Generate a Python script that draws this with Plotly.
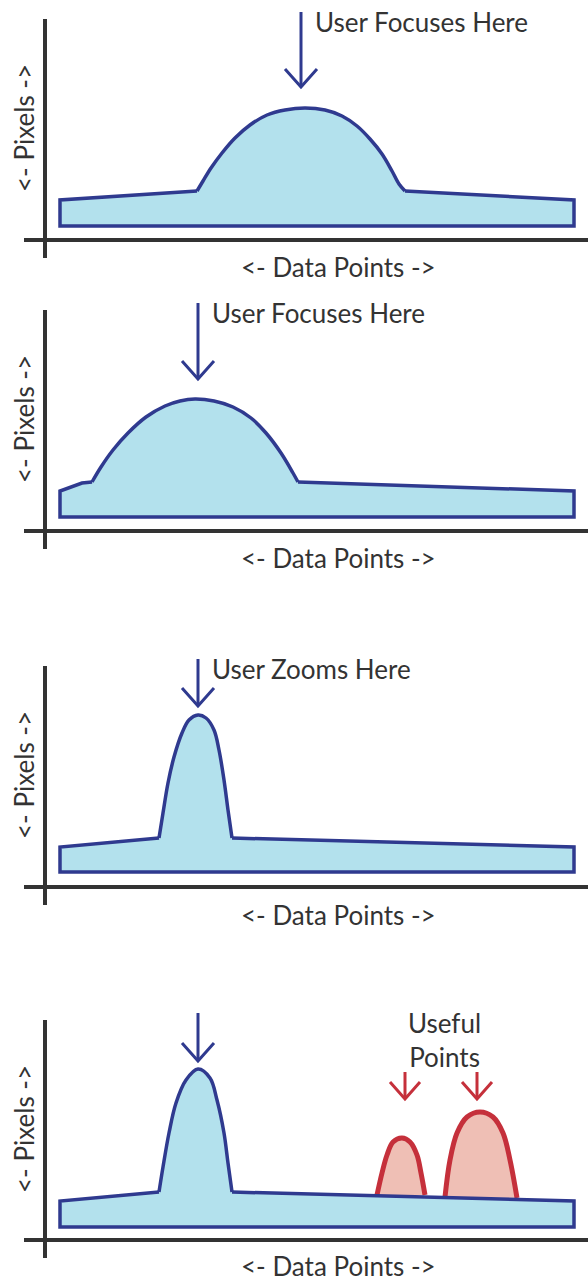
import plotly.graph_objects as go

W, H = 588, 1281

# panel extents on the page: top, bottom, where the x axis sits
panel_top = [0, 290, 640, 1000]
panel_bottom = [290, 640, 1000, 1281]
panel_axis = [240, 531, 887, 1240]

# outlines, u = distance right of the y axis, v = height above the x axis
p1_base_u = [360, 529, 529, 15, 15, 152]
p1_base_v = [49, 40, 14, 14, 40, 49]
p1_peak_u = [152, 158, 166, 177, 190, 205, 222, 240, 260, 280, 297, 312, 325, 337, 347, 354, 360]
p1_peak_v = [49, 59, 72, 87, 102, 115, 125, 130, 132, 130, 124, 114, 101, 86, 69, 56, 49]

p2_base_u = [253, 529, 529, 15, 15, 26, 37, 47]
p2_base_v = [49, 40, 14, 14, 40, 44, 48, 49]
p2_peak_u = [47, 56, 68, 83, 101, 120, 135, 150, 169, 188, 206, 221, 236, 248, 253]
p2_peak_v = [49, 64, 81, 98, 114, 125, 130, 132, 130, 124, 113, 98, 78, 58, 49]

p3_base_u = [187, 529, 529, 15, 15, 114]
p3_base_v = [49, 40, 15, 15, 40, 49]
p3_peak_u = [114, 118, 123, 129, 137, 144, 153, 161, 169, 174, 179, 183, 187]
p3_peak_v = [49, 74, 104, 130, 154, 167, 172, 169, 157, 137, 107, 77, 49]

p4_base_u = [187, 529, 529, 15, 15, 114]
p4_base_v = [48, 39, 13, 13, 39, 48]
p4_peak_u = [114, 118, 124, 131, 141, 153, 165, 172, 179, 183, 187]
p4_peak_v = [48, 73, 107, 137, 160, 171, 162, 140, 107, 77, 48]

# the two useful points in the last panel
r1_u = [332, 337, 342, 348, 357, 365, 372, 376, 380]
r1_v = [45, 67, 85, 98, 102, 98, 85, 67, 45]
r2_u = [400, 405, 412, 422, 435, 448, 458, 465, 472]
r2_v = [43, 80, 107, 123, 128, 123, 107, 80, 42]

# arrows: x, top, tip (one per panel)
arrow_u = [256, 153, 153, 153]
arrow_top = [228, 228, 228, 227]
arrow_tip = [153, 152, 181, 179]
red_arrow_u = [360, 432]
red_arrow_top = [168, 168]
red_arrow_tip = [141, 141]

notes = ["User Focuses Here", "User Focuses Here", "User Zooms Here", None]
note_u = [268, 165, 165, None]
note_v = [218, 218, 218, None]
xlabel_v = [-27, -27, -28, -26]
ylabel_v = [112, 112, 112, 111]
yaxis_top = [221, 221, 221, 220]

BLUE = "#2f3a8f"
BLUE_FILL = "#b3e1ed"
RED = "#c5303b"
RED_FILL = "#efbfb5"
INK = "#333333"
FONT = "Lato, sans-serif"
FS = 26

shapes_data = [
    (p1_base_u, p1_base_v, p1_peak_u, p1_peak_v),
    (p2_base_u, p2_base_v, p2_peak_u, p2_peak_v),
    (p3_base_u, p3_base_v, p3_peak_u, p3_peak_v),
    (p4_base_u, p4_base_v, p4_peak_u, p4_peak_v),
]


def ax(i, kind):
    return kind if i == 0 else f"{kind}{i + 1}"


def arrow_xy(u, top, tip, half, head):
    xs = [u, u, None, u - half, u, u + half]
    ys = [top, tip, None, tip + head, tip, tip + head]
    return xs, ys


fig = go.Figure()
layout = {}
shapes = []
annotations = []

for i in range(4):
    xa, ya = ax(i, "x"), ax(i, "y")
    base_u, base_v, peak_u, peak_v = shapes_data[i]

    # filled body
    fig.add_trace(go.Scatter(
        x=base_u + peak_u[1:], y=base_v + peak_v[1:],
        fill="toself", fillcolor=BLUE_FILL, mode="lines",
        line=dict(width=0), xaxis=xa, yaxis=ya, hoverinfo="skip"))

    if i == 3:
        for ru, rv in [(r1_u, r1_v), (r2_u, r2_v)]:
            fig.add_trace(go.Scatter(
                x=ru, y=rv, fill="toself", fillcolor=RED_FILL, mode="lines",
                line=dict(width=0), xaxis=xa, yaxis=ya, hoverinfo="skip"))
            fig.add_trace(go.Scatter(
                x=ru, y=rv, mode="lines",
                line=dict(color=RED, width=5, shape="spline"),
                xaxis=xa, yaxis=ya, hoverinfo="skip"))
        for u, top, tip in zip(red_arrow_u, red_arrow_top, red_arrow_tip):
            axs, ays = arrow_xy(u, top, tip, 15, 17)
            fig.add_trace(go.Scatter(
                x=axs, y=ays, mode="lines", line=dict(color=RED, width=3),
                xaxis=xa, yaxis=ya, hoverinfo="skip"))

    # outline: straight base + smooth peak
    fig.add_trace(go.Scatter(
        x=base_u, y=base_v, mode="lines",
        line=dict(color=BLUE, width=3.5),
        xaxis=xa, yaxis=ya, hoverinfo="skip"))
    fig.add_trace(go.Scatter(
        x=peak_u, y=peak_v, mode="lines",
        line=dict(color=BLUE, width=3.5, shape="spline"),
        xaxis=xa, yaxis=ya, hoverinfo="skip"))

    axs, ays = arrow_xy(arrow_u[i], arrow_top[i], arrow_tip[i], 16, 18)
    fig.add_trace(go.Scatter(
        x=axs, y=ays, mode="lines", line=dict(color=BLUE, width=3),
        xaxis=xa, yaxis=ya, hoverinfo="skip"))

    # page pixels -> subplot
    top, bottom, axis_px = panel_top[i], panel_bottom[i], panel_axis[i]
    xkey = "xaxis" if i == 0 else f"xaxis{i + 1}"
    ykey = "yaxis" if i == 0 else f"yaxis{i + 1}"
    layout[xkey] = dict(domain=[0, 1], range=[-45, W - 45], visible=False,
                        anchor=ya, fixedrange=True)
    layout[ykey] = dict(domain=[1 - bottom / H, 1 - top / H],
                        range=[axis_px - bottom, axis_px - top],
                        visible=False, anchor=xa, fixedrange=True)

    # the crossing axes
    shapes.append(dict(type="line", xref=xa, yref=ya, x0=0, x1=0,
                       y0=-18, y1=yaxis_top[i], line=dict(color=INK, width=4)))
    shapes.append(dict(type="line", xref=xa, yref=ya, x0=-21, x1=W - 45,
                       y0=0, y1=0, line=dict(color=INK, width=4)))

    annotations.append(dict(text="<- Data Points ->", xref=xa, yref=ya,
                            x=293, y=xlabel_v[i], showarrow=False,
                            font=dict(family=FONT, size=FS, color=INK)))
    annotations.append(dict(text="<- Pixels ->", xref=xa, yref=ya,
                            x=-21, y=ylabel_v[i], showarrow=False, textangle=-90,
                            font=dict(family=FONT, size=FS, color=INK)))
    if notes[i]:
        annotations.append(dict(text=notes[i], xref=xa, yref=ya,
                                x=note_u[i], y=note_v[i], xanchor="left",
                                showarrow=False,
                                font=dict(family=FONT, size=FS, color=INK)))

annotations.append(dict(text="Useful<br>Points", xref="x4", yref="y4",
                        x=399, y=200, showarrow=False,
                        font=dict(family=FONT, size=FS, color=INK)))

fig.update_layout(
    width=W, height=H,
    margin=dict(l=0, r=0, t=0, b=0),
    paper_bgcolor="white", plot_bgcolor="white",
    showlegend=False, hovermode=False,
    shapes=shapes, annotations=annotations,
    **layout,
)

# drop the default page margin so the figure sits at the window corner
fig.write_html("out.html", config={"displayModeBar": False},
               post_script="document.body.style.margin='0';")
